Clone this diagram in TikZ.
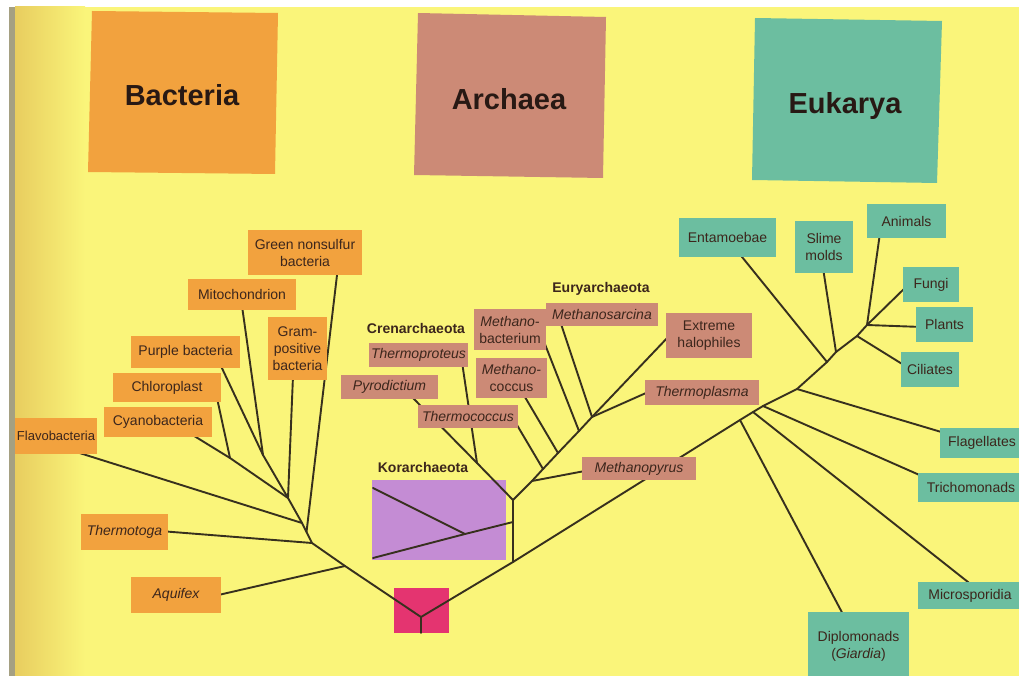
\documentclass[tikz,border=0pt]{standalone}
\usepackage{fontspec}
\setmainfont{Liberation Sans}
\definecolor{bg}{RGB}{250,245,122}
\definecolor{bgdark}{RGB}{232,205,95}
\definecolor{pageedge}{RGB}{165,160,130}
\definecolor{bacC}{RGB}{242,162,62}
\definecolor{arcC}{RGB}{204,138,118}
\definecolor{eukC}{RGB}{108,190,160}
\definecolor{korC}{RGB}{196,140,212}
\definecolor{rootC}{RGB}{228,52,112}
\definecolor{lineC}{RGB}{55,48,30}
\definecolor{txtC}{RGB}{60,38,28}
\definecolor{titleC}{RGB}{40,25,20}
\begin{document}
\begin{tikzpicture}[x=1pt,y=-1pt,
  lbl/.style={inner sep=0pt, align=center, text=txtC, font=\fontsize{14}{17}\selectfont},
  bac/.style={lbl, fill=bacC},
  arc/.style={lbl, fill=arcC},
  euk/.style={lbl, fill=eukC},
  sz/.style 2 args={minimum width=#1pt, minimum height=#2pt},
  head/.style={inner sep=0pt, anchor=base, text=txtC, font=\bfseries\fontsize{14}{17}\selectfont},
  bigtitle/.style={inner sep=0pt, anchor=base, text=titleC, font=\bfseries\fontsize{29}{34}\selectfont},
  branch/.style={draw=lineC, line width=1.9pt, line cap=round, line join=round}
]
\useasboundingbox (0,0) rectangle (1019,676);
% background page
\fill[white] (0,0) rectangle (1019,676);
\fill[bg] (9,7) rectangle (1019,676);
\shade[left color=bgdark, right color=bg] (15,7) rectangle (85,676);
\fill[pageedge] (9,7) rectangle (15,676);

% domain boxes
\fill[bacC] (92,11) -- (278,13) -- (275,174) -- (88,172) -- cycle;
\fill[arcC] (418,13) -- (606,17) -- (603,178) -- (414,175) -- cycle;
\fill[eukC] (755,18) -- (942,21) -- (937,183) -- (752,180) -- cycle;
\node[bigtitle] (tBac) at (182,106) {Bacteria};
\node[bigtitle] (tArc) at (509,110) {Archaea};
\node[bigtitle] (tEuk) at (845,114) {Eukarya};

% coloured background boxes under branches
\node[fill=korC, inner sep=0pt, sz={134}{80}] (korbox) at (439,520) {};
\node[fill=rootC, inner sep=0pt, sz={55}{45}] (rootbox) at (421.5,610.5) {};

% ---- coordinates
\coordinate (rootB) at (421,633);
\coordinate (root) at (421,617);
% bacteria
\coordinate (jaq) at (345,566);
\coordinate (jb3) at (312,543);
\coordinate (jgn) at (306.5,532);
\coordinate (jb2) at (302,523);
\coordinate (jb1) at (288,498);
\coordinate (jpm) at (263,455);
\coordinate (jcc) at (230,458);
\coordinate (eCyano) at (191,434);
\coordinate (eChloro) at (217,398);
\coordinate (ePurple) at (220,364);
\coordinate (eMito) at (242,306);
\coordinate (eGram) at (293,376);
\coordinate (eFlavo) at (70,450);
\coordinate (eGN) at (337.5,271);
\coordinate (eTtoga) at (160,531);
\coordinate (eAquifex) at (214,596);
% archaea
\coordinate (ja1) at (513,562);
\coordinate (ja2) at (513,500);
\coordinate (jkor) at (513,522);
\coordinate (jk2) at (465,534);
\coordinate (eK1) at (373,488);
\coordinate (eK2) at (373,558);
\coordinate (jcr) at (477,463);
\coordinate (ePyro) at (411,396);
\coordinate (eTProt) at (462,362);
\coordinate (je0) at (532,481);
\coordinate (jtc) at (543,469);
\coordinate (jmc) at (558,453);
\coordinate (jmb) at (579,431);
\coordinate (jms) at (592,417);
\coordinate (eHalo) at (670,335);
\coordinate (eTCoc) at (514,420);
\coordinate (eMCoc) at (522,392);
\coordinate (eMBac) at (544.5,343);
\coordinate (eMSar) at (560,321);
\coordinate (eTPla) at (655,389);
\coordinate (eMPyr) at (590,470);
% eukarya
\coordinate (e1) at (740,420);
\coordinate (e2) at (753,412);
\coordinate (e3) at (763,406);
\coordinate (e4) at (797,389);
\coordinate (e5) at (827,362);
\coordinate (e6) at (836,352);
\coordinate (e7) at (857,336);
\coordinate (e8) at (867,325);
\coordinate (eFungi) at (908,285);
\coordinate (eDiplo) at (846,620);
\coordinate (eMicro) at (973,586);
\coordinate (eTricho) at (924,477);
\coordinate (eFlag) at (948,434);
\coordinate (eEnta) at (738,252);
\coordinate (eSlime) at (823,268);
\coordinate (eCil) at (907,367);
\coordinate (eAnim) at (880,233);
\coordinate (ePlants) at (922,327);

% ---- branches
\draw[branch] (rootB) -- (root);
% bacteria
\draw[branch] (root) -- (jaq) -- (jb3) -- (jgn) -- (jb2) -- (jb1) -- (jcc) -- (eCyano);
\draw[branch] (eChloro) -- (jcc);
\draw[branch] (ePurple) -- (jpm);
\draw[branch] (eMito) -- (jpm);
\draw[branch] (jpm) -- (jb1);
\draw[branch] (eGram) -- (jb1);
\draw[branch] (eFlavo) -- (jb2);
\draw[branch] (eGN) -- (jgn);
\draw[branch] (eTtoga) -- (jb3);
\draw[branch] (eAquifex) -- (jaq);
% archaea
\draw[branch] (root) -- (ja1) -- (jkor) -- (ja2);
\draw[branch] (jkor) -- (jk2) -- (eK1);
\draw[branch] (jk2) -- (eK2);
\draw[branch] (ja2) -- (jcr) -- (ePyro);
\draw[branch] (eTProt) -- (jcr);
\draw[branch] (ja2) -- (je0) -- (jtc) -- (jmc) -- (jmb) -- (jms) -- (eHalo);
\draw[branch] (eTCoc) -- (jtc);
\draw[branch] (eMCoc) -- (jmc);
\draw[branch] (eMBac) -- (jmb);
\draw[branch] (eMSar) -- (jms);
\draw[branch] (eTPla) -- (jms);
\draw[branch] (eMPyr) -- (je0);
% eukarya
\draw[branch] (ja1) -- (e1) -- (e2) -- (e3) -- (e4) -- (e5) -- (e6) -- (e7) -- (e8) -- (eFungi);
\draw[branch] (e1) -- (eDiplo);
\draw[branch] (e2) -- (eMicro);
\draw[branch] (e3) -- (eTricho);
\draw[branch] (e4) -- (eFlag);
\draw[branch] (eEnta) -- (e5);
\draw[branch] (eSlime) -- (e6);
\draw[branch] (e7) -- (eCil);
\draw[branch] (eAnim) -- (e8);
\draw[branch] (e8) -- (ePlants);

% ---- bacteria labels
\node[bac, sz={114}{45}] (gns) at (305,252.5) {Green nonsulfur\\bacteria};
\node[bac, sz={108}{31}] (mito) at (242,294.5) {Mitochondrion};
\node[bac, sz={59}{63}] (gram) at (297.5,348.5) {Gram-\\positive\\bacteria};
\node[bac, sz={109}{32}] (purple) at (185.5,352) {Purple bacteria};
\node[bac, sz={108}{29}] (chloro) at (167,387.5) {Chloroplast};
\node[bac, sz={108}{30}] (cyano) at (158,422) {Cyanobacteria};
\node[bac, sz={82}{36}, font=\fontsize{13}{16}\selectfont] (flavo) at (56,436) {Flavobacteria};
\node[bac, sz={87}{36}] (ttoga) at (124.5,532) {\itshape Thermotoga};
\node[bac, sz={90}{36}] (aquifex) at (176,595) {\itshape Aquifex};

% ---- archaea labels
\node[arc, sz={99}{24}] (tprot) at (418.5,355) {\itshape Thermoproteus};
\node[arc, sz={97}{24}] (pyro) at (389.5,387) {\itshape Pyrodictium};
\node[arc, sz={100}{23}] (tcoc) at (468,416.5) {\itshape Thermococcus};
\node[arc, sz={72}{41}] (mbac) at (510,329.5) {\itshape Methano-\\bacterium};
\node[arc, sz={71}{40}] (mcoc) at (511.5,378) {\itshape Methano-\\coccus};
\node[arc, sz={112}{23}] (msar) at (602,314.5) {\itshape Methanosarcina};
\node[arc, sz={86}{45}] (halo) at (709,335.5) {Extreme\\halophiles};
\node[arc, sz={114}{25}] (tpla) at (702,392.5) {\itshape Thermoplasma};
\node[arc, sz={114}{23}] (mpyr) at (639,468.5) {\itshape Methanopyrus};

\node[head] (cren) at (416,333) {Crenarchaeota};
\node[head] (eury) at (601,292) {Euryarchaeota};
\node[head] (kor) at (423,472) {Korarchaeota};

% ---- eukarya labels
\node[euk, sz={97}{39}] (enta) at (727.5,237.5) {Entamoebae};
\node[euk, sz={58}{52}] (slime) at (824,247) {Slime\\molds};
\node[euk, sz={79}{34}] (anim) at (906.5,221) {Animals};
\node[euk, sz={56}{35}] (fungi) at (931,284.5) {Fungi};
\node[euk, sz={57}{35}] (plants) at (944.5,324.5) {Plants};
\node[euk, sz={58}{35}] (cil) at (930,369.5) {Ciliates};
\node[euk, sz={84}{30}] (flag) at (982,443) {Flagellates};
\node[euk, sz={106}{29}] (tricho) at (971,487.5) {Trichomonads};
\node[euk, sz={104}{27}] (micro) at (970,595.5) {Microsporidia};
\node[euk, sz={101}{68}] (diplo) at (858.5,646) {Diplomonads\\(\textit{Giardia})};
\end{tikzpicture}
\end{document}
